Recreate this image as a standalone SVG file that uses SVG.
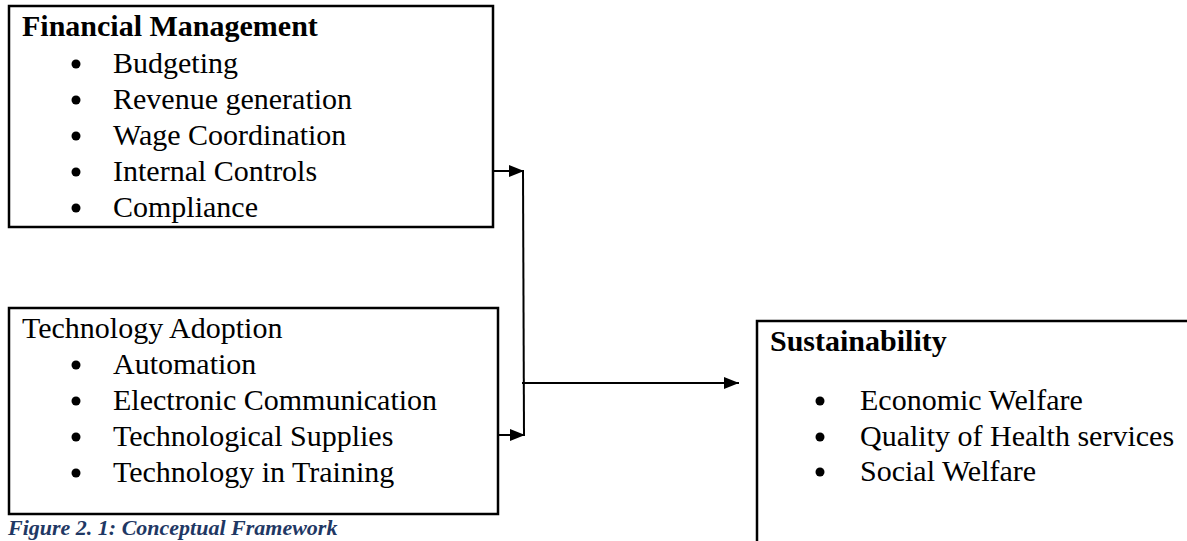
<svg xmlns="http://www.w3.org/2000/svg" width="1187" height="541" viewBox="0 0 1187 541">
<style>
.box{fill:#fff;stroke:#000;stroke-width:2.5}
.t{font-family:"Liberation Serif","Times New Roman",serif;font-size:30px;fill:#000}
.b{font-weight:bold}
.bul{fill:#000}
.c{stroke:#000;stroke-width:2;fill:none}
.cap{font-family:"Liberation Serif","Times New Roman",serif;font-size:22px;font-weight:bold;font-style:italic;fill:#1F3864}
</style>
<defs>
<marker id="ah" viewBox="0 0 15 12" refX="15" refY="6" markerWidth="15" markerHeight="12" markerUnits="userSpaceOnUse" orient="auto">
<path d="M0,0 L15,6 L0,12 Z" fill="#000"/>
</marker>
</defs>
<g id="financial">
<rect class="box" x="9" y="6" width="484" height="221"/>
<text class="t b" x="22" y="36">Financial Management</text>
<circle class="bul" cx="76" cy="64" r="4.5"/><text class="t" x="113" y="73">Budgeting</text>
<circle class="bul" cx="76" cy="100" r="4.5"/><text class="t" x="113" y="109">Revenue generation</text>
<circle class="bul" cx="76" cy="136" r="4.5"/><text class="t" x="113" y="145">Wage Coordination</text>
<circle class="bul" cx="76" cy="172" r="4.5"/><text class="t" x="113" y="181">Internal Controls</text>
<circle class="bul" cx="76" cy="208" r="4.5"/><text class="t" x="113" y="217">Compliance</text>
</g>
<g id="technology">
<rect class="box" x="9" y="308" width="489" height="206"/>
<text class="t" x="22" y="338">Technology Adoption</text>
<circle class="bul" cx="76" cy="365" r="4.5"/><text class="t" x="113" y="374">Automation</text>
<circle class="bul" cx="76" cy="401" r="4.5"/><text class="t" x="113" y="410">Electronic Communication</text>
<circle class="bul" cx="76" cy="437" r="4.5"/><text class="t" x="113" y="446">Technological Supplies</text>
<circle class="bul" cx="76" cy="473" r="4.5"/><text class="t" x="113" y="482">Technology in Training</text>
</g>
<g id="sustainability">
<path class="box" d="M1190,321 L757,321 L757,545"/>
<text class="t b" x="770" y="351">Sustainability</text>
<circle class="bul" cx="820" cy="401" r="4.5"/><text class="t" x="860" y="410">Economic Welfare</text>
<circle class="bul" cx="820" cy="437" r="4.5"/><text class="t" x="860" y="446">Quality of Health services</text>
<circle class="bul" cx="820" cy="472" r="4.5"/><text class="t" x="860" y="481">Social Welfare</text>
</g>
<g id="connectors">
<line class="c" x1="493" y1="171" x2="524" y2="171" marker-end="url(#ah)"/>
<line class="c" x1="498" y1="435" x2="525" y2="435" marker-end="url(#ah)"/>
<line class="c" x1="523" y1="170" x2="524" y2="436"/>
<line class="c" x1="522" y1="383" x2="739" y2="383" marker-end="url(#ah)"/>
</g>
<text id="caption" class="cap" x="8" y="535">Figure 2. 1: Conceptual Framework</text>
</svg>
